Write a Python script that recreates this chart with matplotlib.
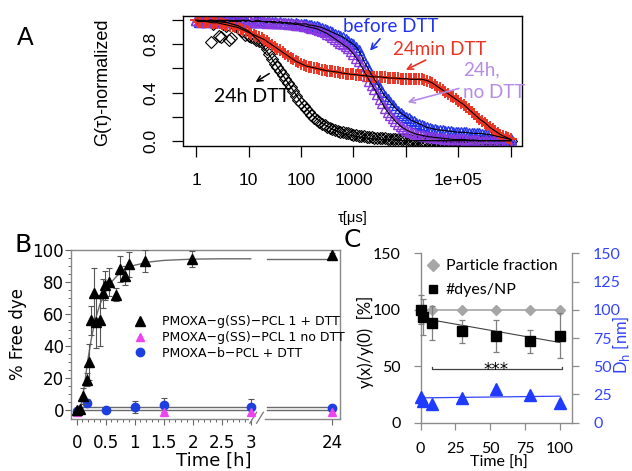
import numpy as np
import matplotlib
matplotlib.use("Agg")
import matplotlib.pyplot as plt
from matplotlib.lines import Line2D
from matplotlib.ticker import NullLocator

plt.rcParams['font.family'] = ['Liberation Sans', 'DejaVu Sans']

# ---------------- Panel A data (FCS autocorrelation) ----------------
TAU_A = [1, 1.12, 1.26, 1.41, 1.58, 1.78, 2, 2.24, 2.51, 2.82, 3.16, 3.55, 3.98, 4.47, 5.01, 5.62, 6.31, 7.08, 7.94, 8.91,
         10, 11.2, 12.6, 14.1, 15.8, 17.8, 20, 22.4, 25.1, 28.2, 31.6, 35.5, 39.8, 44.7, 50.1, 56.2, 63.1, 70.8, 79.4, 89.1,
         100, 112, 126, 141, 158, 178, 200, 224, 251, 282, 316, 355, 398, 447, 501, 562, 631, 708, 794, 891,
         1000, 1120, 1260, 1410, 1580, 1780, 2000, 2240, 2510, 2820, 3160, 3550, 3980, 4470, 5010, 5620, 6310, 7080, 7940, 8910,
         1e4, 1.12e4, 1.26e4, 1.41e4, 1.58e4, 1.78e4, 2e4, 2.24e4, 2.51e4, 2.82e4, 3.16e4, 3.55e4, 3.98e4, 4.47e4, 5.01e4,
         5.62e4, 6.31e4, 7.08e4, 7.94e4, 8.91e4,
         1e5, 1.12e5, 1.26e5, 1.41e5, 1.58e5, 1.78e5, 2e5, 2.24e5, 2.51e5, 2.82e5, 3.16e5, 3.55e5, 3.98e5, 4.47e5, 5.01e5,
         5.62e5, 6.31e5, 7.08e5, 7.94e5, 8.91e5,
         1e6]
G_BLUE = [1.0, 0.99, 1.0, 1.0, 0.99, 1.0, 1.0, 0.99, 1.0, 1.0, 0.99, 1.0, 1.0, 0.99, 1.0, 0.99, 0.99, 1.0, 1.0, 0.99,
          1.0, 0.99, 0.99, 1.0, 1.0, 0.99, 0.99, 0.99, 0.99, 0.99, 0.99, 0.98, 0.99, 0.98, 0.98, 0.98, 0.98, 0.97, 0.98, 0.97,
          0.97, 0.97, 0.97, 0.96, 0.96, 0.955, 0.95, 0.945, 0.94, 0.93, 0.92, 0.91, 0.90, 0.89, 0.88, 0.87, 0.86, 0.845, 0.83, 0.815,
          0.80, 0.78, 0.75, 0.71, 0.66, 0.62, 0.58, 0.545, 0.51, 0.475, 0.44, 0.405, 0.37, 0.345, 0.32, 0.295, 0.27, 0.25, 0.23, 0.215,
          0.20, 0.185, 0.17, 0.16, 0.15, 0.14, 0.13, 0.12, 0.11, 0.105, 0.10, 0.095, 0.09, 0.088, 0.085, 0.083, 0.08, 0.078, 0.075, 0.072,
          0.07, 0.07, 0.07, 0.068, 0.065, 0.063, 0.06, 0.06, 0.06, 0.058, 0.055, 0.052, 0.05, 0.045, 0.04, 0.035, 0.03, 0.025, 0.02, 0.015,
          0.01]
G_PURPLE = [1.0, 1.0, 0.99, 1.0, 0.99, 1.0, 1.0, 1.0, 0.99, 1.0, 1.0, 0.99, 1.0, 1.0, 0.99, 1.0, 1.0, 0.99, 1.0, 1.0,
            1.0, 0.99, 0.99, 0.99, 0.99, 0.99, 0.99, 0.98, 0.99, 0.98, 0.98, 0.98, 0.98, 0.975, 0.98, 0.97, 0.97, 0.97, 0.965, 0.965,
            0.96, 0.955, 0.95, 0.945, 0.94, 0.935, 0.93, 0.92, 0.91, 0.90, 0.89, 0.875, 0.86, 0.845, 0.83, 0.815, 0.80, 0.785, 0.77, 0.745,
            0.72, 0.69, 0.66, 0.62, 0.58, 0.54, 0.50, 0.465, 0.43, 0.39, 0.35, 0.31, 0.27, 0.24, 0.21, 0.185, 0.16, 0.14, 0.12, 0.105,
            0.09, 0.08, 0.07, 0.062, 0.055, 0.05, 0.045, 0.04, 0.035, 0.032, 0.03, 0.027, 0.025, 0.022, 0.02, 0.018, 0.015, 0.012, 0.01, 0.01,
            0.01, 0.01, 0.01, 0.008, 0.005, 0.005, 0.005, 0.003, 0.0, 0.0, 0.0, 0.0, 0.0, 0.0, 0.0, 0.0, 0.0, 0.0, 0.0, 0.0,
            0.0]
G_RED = [1.0, 0.99, 0.99, 0.99, 0.99, 0.985, 0.98, 0.98, 0.98, 0.975, 0.97, 0.965, 0.96, 0.955, 0.95, 0.945, 0.94, 0.93, 0.92, 0.91,
         0.90, 0.89, 0.88, 0.87, 0.86, 0.85, 0.84, 0.825, 0.81, 0.795, 0.78, 0.765, 0.75, 0.735, 0.72, 0.705, 0.69, 0.675, 0.66, 0.65,
         0.64, 0.63, 0.62, 0.615, 0.61, 0.605, 0.60, 0.595, 0.59, 0.585, 0.58, 0.578, 0.575, 0.572, 0.57, 0.565, 0.56, 0.558, 0.555, 0.552,
         0.55, 0.548, 0.545, 0.542, 0.54, 0.538, 0.535, 0.532, 0.53, 0.53, 0.53, 0.528, 0.525, 0.522, 0.52, 0.52, 0.52, 0.518, 0.515, 0.515,
         0.515, 0.513, 0.51, 0.51, 0.51, 0.51, 0.51, 0.505, 0.50, 0.49, 0.48, 0.465, 0.45, 0.435, 0.42, 0.405, 0.39, 0.375, 0.36, 0.345,
         0.33, 0.315, 0.30, 0.28, 0.26, 0.24, 0.22, 0.20, 0.18, 0.165, 0.15, 0.13, 0.11, 0.095, 0.08, 0.065, 0.05, 0.04, 0.03, 0.02,
         0.01]
TAU_BLACK_EARLY = [1.9, 2.1, 2.4, 2.7, 2.95, 3.2, 3.7, 4.2, 4.6, 5.2, 5.8, 6.6, 7.6, 8.7]
G_BLACK_EARLY = [0.82, 0.97, 0.99, 0.87, 0.86, 0.97, 0.95, 0.84, 0.85, 0.96, 0.97, 0.93, 0.91, 0.88]
G_BLACK_GRID = [0.87, 0.86, 0.85, 0.84, 0.83, 0.82, 0.80, 0.76, 0.72, 0.68, 0.64, 0.61, 0.58, 0.545, 0.51, 0.48, 0.45, 0.41, 0.37, 0.34,
                0.31, 0.285, 0.26, 0.235, 0.21, 0.19, 0.17, 0.155, 0.14, 0.127, 0.115, 0.105, 0.095, 0.088, 0.08, 0.075, 0.07, 0.065, 0.06, 0.055,
                0.05, 0.045, 0.04, 0.037, 0.035, 0.032, 0.03, 0.027, 0.025, 0.022, 0.02, 0.02, 0.02, 0.018, 0.015, 0.012, 0.01, 0.01, 0.01, 0.01,
                0.01, 0.008, 0.005, 0.005, 0.005, 0.003, 0.0, 0.0, 0.0, 0.0, 0.0, 0.0, 0.0, 0.0, 0.0, 0.0, 0.0, 0.0, 0.0, 0.0,
                0.0, 0.0, 0.0, 0.0, 0.0, 0.0, 0.0, 0.0, 0.0, 0.0, 0.0, 0.0, 0.0, 0.0, 0.0, 0.0, 0.0, 0.0, 0.0, 0.0,
                0.0]
TAU_BLACK = TAU_BLACK_EARLY + TAU_A[20:]
G_BLACK = G_BLACK_EARLY + G_BLACK_GRID
TAU_FIT = [1, 1.58, 2.51, 3.98, 6.31, 10, 15.8, 25.1, 39.8, 63.1, 100, 158, 251, 398,
           631, 1000, 1580, 2510, 3980, 6310, 1e4, 1.58e4, 2.51e4, 3.98e4, 6.31e4,
           1e5, 1.58e5, 2.51e5, 3.98e5, 6.31e5, 1e6]
G_BLACK_FIT = [1.0, 0.995, 0.99, 0.98, 0.955, 0.91, 0.83, 0.71, 0.58, 0.45, 0.32, 0.22,
               0.145, 0.095, 0.06, 0.04, 0.025, 0.015, 0.01, 0.005, 0.0, 0.0, 0.0, 0.0,
               0.0, 0.0, 0.0, 0.0, 0.0, 0.0, 0.0]

# ---------------- Panel B data (dye release) ----------------
B_T_DTT = [0.0, 0.06, 0.11, 0.17, 0.21, 0.25, 0.30, 0.34, 0.40, 0.45, 0.49, 0.55,
           0.67, 0.74, 0.83, 0.91, 1.17, 1.99, 24]
B_V_DTT = [0, 0.5, 9, 19, 30, 56, 73, 55, 56, 73, 78, 80, 72, 88, 84, 91, 93, 94.5, 97]
B_E_DTT = [1, 1, 5, 4, 11, 9, 16, 16, 16, 9, 9, 9, 4, 8, 6, 8, 7, 5, 1]
B_T_NODTT = [0, 1.5, 3, 24]
B_V_NODTT = [-1, -1, -1.5, -1]
B_T_BPCL = [0, 0.18, 0.5, 1.0, 1.5, 3, 24]
B_V_BPCL = [-0.5, 4.6, 0, 1.9, 3, 2, 1.5]
B_E_BPCL = [0.5, 2, 0.5, 4, 4.5, 5, 1.5]
B_FIT_T1 = [0.05, 0.1, 0.15, 0.2, 0.25, 0.3, 0.35, 0.4, 0.5, 0.6, 0.7, 0.8, 1.0,
            1.25, 1.5, 2.0, 2.5, 3.03]
B_FIT_V1 = [0, 7, 20, 33, 44, 53, 60, 66, 74, 80, 84, 87, 90.5, 92.5, 93.5, 94.3, 94.5, 94.5]
B_FIT_T2 = [7.2, 24]
B_FIT_V2 = [94.5, 94.5]
B_LOW_T1 = [0, 3.03]
B_LOW_T2 = [7.2, 24]
B_LOW_BLUE = 2.0
B_LOW_ZERO = 0.0
B_LEGEND = ['PMOXA\u2212g(SS)\u2212PCL 1 + DTT', 'PMOXA\u2212g(SS)\u2212PCL 1 no DTT',
            'PMOXA\u2212b\u2212PCL + DTT']
B_XTICKS = [0, 0.5, 1, 1.5, 2, 2.5, 3, 24]
B_XLABELS = ['0', '0.5', '1', '1.5', '2', '2.5', '3', '24']

# ---------------- Panel C data ----------------
C_T = [0, 2, 8, 30, 54, 78.5, 100]
C_DYES = [100, 93.5, 88, 81, 77, 72, 77]
C_DYES_ERR = [13, 16, 15, 10, 14, 10, 20]
C_T_PART = [0, 8, 30, 54, 78.5, 100]
C_PART = [100, 100, 100, 100, 100, 100]
C_DH = [22.5, 19, 16.5, 21.5, 29.5, 24.5, 17.5]
C_DYES_FIT_T = [1, 100]
C_DYES_FIT_V = [92.5, 71]
C_DH_FIT_T = [2, 100]
C_DH_FIT_V = [22, 23.5]

BLUE = '#2233ee'
RED = '#ee3322'
PURPLE = '#8a3ae0'
LAVENDER = '#b58be8'

W, H = 632, 471
fig = plt.figure(figsize=(W / 100, H / 100), dpi=100)


def rect(l, t, r, b):
    return [l / W, 1 - b / H, (r - l) / W, (b - t) / H]


def X(x):
    return x / W


def Y(y):
    return 1 - y / H


# ================= Panel A =================
axA = fig.add_axes(rect(183.3, 15.5, 521.7, 145.5))
axA.set_xscale('log')
axA.set_xlim(10 ** -0.242, 10 ** 6.204)
axA.set_ylim(-0.04, 1.04)
axA.plot(TAU_BLACK, G_BLACK, ls='none', marker='D', ms=6.5, mfc='none', mec='black', mew=0.8)
axA.plot(TAU_A, G_BLUE, ls='none', marker='^', ms=7, mfc='none', mec=BLUE, mew=1.0)
axA.plot(TAU_A, G_PURPLE, ls='none', marker='^', ms=7, mfc='none', mec=PURPLE, mew=1.0)
axA.plot(TAU_A, G_RED, ls='none', marker='+', ms=9, mec=RED, mew=1.4)
axA.plot(TAU_FIT, G_BLACK_FIT, color='black', lw=0.9)
axA.plot(TAU_A, G_BLUE, color='black', lw=0.8)
axA.plot(TAU_A, G_PURPLE, color='black', lw=0.8)
axA.plot(TAU_A, G_RED, color='black', lw=0.8)

axA.set_xticks([1, 10, 100, 1000, 1e4, 1e5, 1e6])
axA.set_xticklabels(['1', '10', '100', '1000', '', '1e+05', ''])
axA.xaxis.set_minor_locator(NullLocator())
axA.set_yticks([0, 0.2, 0.4, 0.6, 0.8, 1.0])
axA.set_yticklabels(['0.0', '', '0.4', '', '0.8', ''], rotation=90, va='center')
axA.tick_params(axis='both', direction='out', length=8, width=0.9, labelsize=12.5)
axA.tick_params(axis='x', pad=12)
axA.tick_params(axis='y', pad=10)
for s in axA.spines.values():
    s.set_linewidth(1.0)

ann = dict(fontsize=13.5, family='Lato')
axA.text(5000, 0.95, 'before DTT', color=BLUE, ha='center', va='center', **ann)
axA.annotate('', xy=(1910, 0.73), xytext=(3450, 0.864),
             arrowprops=dict(arrowstyle='->', color=BLUE, lw=1.2))
axA.text(42900, 0.758, '24min DTT', color=RED, ha='center', va='center', **ann)
axA.annotate('', xy=(8900, 0.578), xytext=(26500, 0.68),
             arrowprops=dict(arrowstyle='->', color=RED, lw=1.2))
axA.text(1.24e5, 0.59, '24h,', color=LAVENDER, ha='left', va='center', **ann)
axA.text(1.22e5, 0.40, 'no DTT', color=LAVENDER, ha='left', va='center', **ann)
axA.annotate('', xy=(9550, 0.314), xytext=(1.15e5, 0.44),
             arrowprops=dict(arrowstyle='->', color=LAVENDER, lw=1.2))
axA.text(11.9, 0.37, '24h DTT', color='black', ha='center', va='center', fontsize=14, family='Lato')
axA.annotate('', xy=(12.3, 0.475), xytext=(27.6, 0.57),
             arrowprops=dict(arrowstyle='->', color='black', lw=1.1))

fig.text(X(103), Y(82), 'G(\u03c4)-normalized', rotation=90, ha='center', va='center', fontsize=13)
fig.text(X(353), Y(218), '\u03c4[\u03bcs]', ha='center', va='center', fontsize=10.5)
fig.text(X(25), Y(38), 'A', ha='center', va='center', fontsize=18)

# ================= Panel B =================
K = 0.06714


def fwd(x):
    x = np.asarray(x, dtype=float)
    return np.where(x <= 3, x, 3 + (x - 3) * K)


def inv(y):
    y = np.asarray(y, dtype=float)
    return np.where(y <= 3, y, 3 + (y - 3) / K)


axB = fig.add_axes(rect(71, 250, 340, 419))
axB.set_xscale('function', functions=(fwd, inv))
axB.set_xlim(-0.098, 25.97)
axB.set_ylim(-5.6, 100)

LINE_GRAY = '#6a6a6a'
axB.plot(B_FIT_T1, B_FIT_V1, color=LINE_GRAY, lw=1.0, zorder=2)
axB.plot(B_FIT_T2, B_FIT_V2, color=LINE_GRAY, lw=1.0, zorder=2)
for tt in (B_LOW_T1, B_LOW_T2):
    axB.plot(tt, [B_LOW_BLUE, B_LOW_BLUE], color=LINE_GRAY, lw=1.0, zorder=2)
    axB.plot(tt, [B_LOW_ZERO, B_LOW_ZERO], color=LINE_GRAY, lw=1.0, zorder=2)

axB.errorbar(B_T_BPCL, B_V_BPCL, yerr=B_E_BPCL, fmt='o', color='#1d3fe0', ms=6,
             ecolor='#555555', elinewidth=0.8, capsize=2.5, capthick=0.8, zorder=3)
axB.plot(B_T_NODTT, B_V_NODTT, ls='none', marker='^', color='#ee44ee', ms=6, zorder=4)
axB.errorbar(B_T_DTT, B_V_DTT, yerr=B_E_DTT, fmt='^', color='black', ms=6.5,
             ecolor='#555555', elinewidth=0.8, capsize=2.5, capthick=0.8, zorder=5)

axB.set_xticks(B_XTICKS)
axB.set_xticklabels(B_XLABELS)
axB.set_xticks([0.1, 0.2, 0.3, 0.4, 0.6, 0.7, 0.8, 0.9, 1.1, 1.2, 1.3, 1.4, 1.6, 1.7,
                1.8, 1.9, 2.1, 2.2, 2.3, 2.4, 2.6, 2.7, 2.8, 2.9], minor=True)
axB.set_yticks([0, 20, 40, 60, 80, 100])
axB.set_yticks([5, 10, 15, 25, 30, 35, 45, 50, 55, 65, 70, 75, 85, 90, 95], minor=True)
axB.tick_params(axis='both', which='major', direction='out', length=4, width=0.8,
                color='#666666', labelsize=12)
axB.tick_params(axis='both', which='minor', direction='out', length=2.3, width=0.7,
                color='#666666')
axB.tick_params(axis='x', pad=7)
axB.tick_params(axis='y', pad=1)
for lbl in axB.get_xticklabels() + axB.get_yticklabels():
    lbl.set_family('DejaVu Sans')
for nm in ('left', 'right', 'top'):
    axB.spines[nm].set_color('#888888')
    axB.spines[nm].set_linewidth(1.0)
axB.spines['bottom'].set_visible(False)
axB.plot([0, 0.659], [0, 0], transform=axB.transAxes, color='#888888', lw=1.0, clip_on=False)
axB.plot([0.721, 1], [0, 0], transform=axB.transAxes, color='#888888', lw=1.0, clip_on=False)
axB.plot([0.665, 0.690], [-0.025, 0.040], transform=axB.transAxes, color='#777777', lw=0.9, clip_on=False)
axB.plot([0.690, 0.715], [-0.025, 0.040], transform=axB.transAxes, color='#777777', lw=0.9, clip_on=False)

hB = [Line2D([], [], ls='none', marker='^', color='black', ms=6.5),
      Line2D([], [], ls='none', marker='^', color='#ee44ee', ms=6),
      Line2D([], [], ls='none', marker='o', color='#1d3fe0', ms=6)]
axB.legend(hB, B_LEGEND, loc='upper left', bbox_to_anchor=(0.233, 0.614), frameon=False,
           prop=dict(family='DejaVu Sans', size=9), handlelength=1.0, handletextpad=1.3,
           borderaxespad=0, borderpad=0, labelspacing=0.22)

fig.text(X(214), Y(461), 'Time [h]', ha='center', va='center', fontsize=13, family='DejaVu Sans')
fig.text(X(18), Y(334), '% Free dye', rotation=90, ha='center', va='center', fontsize=12,
         family='DejaVu Sans')
fig.text(X(23), Y(245), 'B', ha='center', va='center', fontsize=18, family='DejaVu Sans')

# ================= Panel C =================
axC = fig.add_axes(rect(420.5, 253.3, 572.3, 422.7))
axC.set_xlim(0, 108.8)
axC.set_ylim(0, 150)
axC2 = axC.twinx()
axC2.set_ylim(0, 150)

CGRAY = '#8c8c8c'
axC.plot(C_T_PART, C_PART, color='#a6a6a6', lw=1.2, zorder=2)
axC.plot(C_DYES_FIT_T, C_DYES_FIT_V, color='#404040', lw=0.8, zorder=2)
axC.plot(C_T_PART, C_PART, ls='none', marker='D', color='#a6a6a6', ms=5.5, zorder=3, clip_on=False)
axC.errorbar(C_T, C_DYES, yerr=C_DYES_ERR, fmt='s', color='black', ms=6.5,
             ecolor='#7f7f7f', elinewidth=0.9, capsize=2.5, capthick=0.9, zorder=4, clip_on=False)
axC.plot([8, 8, 101.5, 101.5], [49.5, 47.3, 47.3, 49.5], color='#404040', lw=0.9)
axC.text(54, 42.5, '***', ha='center', va='baseline', fontsize=12, family='DejaVu Sans')

axC2.plot(C_DH_FIT_T, C_DH_FIT_V, color='#3344ff', lw=0.9, zorder=2)
axC2.plot(C_T, C_DH, ls='none', marker='^', color='#1f3bff', ms=8, zorder=3, clip_on=False)

axC.set_xticks([0, 25, 50, 75, 100])
axC.set_yticks([0, 50, 100, 150])
axC2.set_yticks([0, 25, 50, 75, 100, 125, 150])
axC.tick_params(axis='both', direction='out', length=5, width=0.9, color=CGRAY, labelsize=11.5)
axC.tick_params(axis='x', pad=9)
axC.tick_params(axis='y', pad=9)
axC2.tick_params(axis='y', direction='out', length=5, width=0.9, color=CGRAY, labelsize=11.5,
                 labelcolor='#3344ff', pad=10)
for lbl in axC.get_xticklabels() + axC.get_yticklabels() + axC2.get_yticklabels():
    lbl.set_family('Lato')
for a in (axC, axC2):
    a.spines['top'].set_visible(False)
    for s in a.spines.values():
        s.set_color(CGRAY)
        s.set_linewidth(1.0)
axC2.spines['left'].set_visible(False)
axC2.spines['bottom'].set_visible(False)
axC.spines['right'].set_visible(False)

hC = [Line2D([], [], ls='none', marker='D', color='#a6a6a6', ms=6),
      Line2D([], [], ls='none', marker='s', color='black', ms=6)]
axC2.legend(hC, ['Particle fraction', '#dyes/NP'], loc='upper left', bbox_to_anchor=(0.04, 0.965),
            frameon=False, prop=dict(family='Lato', size=11.5), handlelength=0.8,
            handletextpad=0.4, borderaxespad=0, borderpad=0, labelspacing=0.6)

fig.text(X(499), Y(456), 'Time [h]', ha='center', va='top', fontsize=11.5, family='Lato')
fig.text(X(365), Y(342), 'y(x)/y(0)  [%]', rotation=90, ha='center', va='center', fontsize=12,
         family='Lato')
fig.text(X(621), Y(345), 'D$_\\mathrm{h}$ [nm]', rotation=90, ha='center', va='center',
         fontsize=12, family='Lato', color='#3344ff')
fig.text(X(352), Y(240), 'C', ha='center', va='center', fontsize=18, family='DejaVu Sans')

fig.savefig('out.png', dpi=100)
